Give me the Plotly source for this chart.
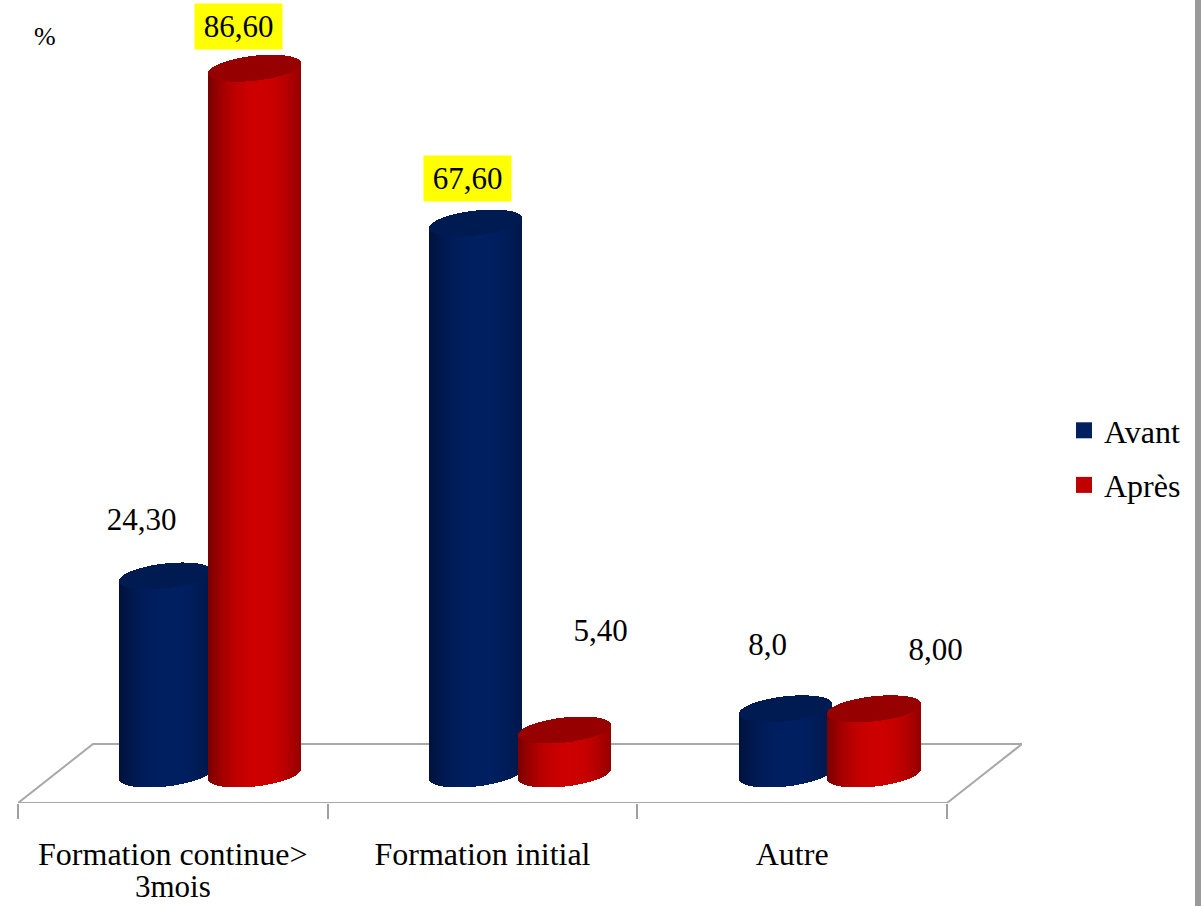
import numpy as np
import plotly.graph_objects as go

# Chart data
categories = ["Formation continue>", "Formation initial", "Autre"]
category_second_line = "3mois"
avant = [24.3, 67.6, 8.0]
apres = [86.6, 5.4, 8.0]
avant_labels = ["24,30", "67,60", "8,0"]
apres_labels = ["86,60", "5,40", "8,00"]
avant_highlight = [False, True, False]
apres_highlight = [True, False, False]

# Page geometry, in pixels
W, H = 1201, 906
FLOOR_LEFT, FLOOR_RIGHT, FLOOR_DEPTH_X = 18, 947, 75
FLOOR_FRONT, FLOOR_BACK = 803, 744
ZERO_PX = 774
PX_PER_CAT = (FLOOR_RIGHT - FLOOR_LEFT) / 3
PX_PER_UNIT = 8.15
RADIUS_PX, TILT_PX, RY_PX = 46, 5, 12.5
STRIPS = 92

# Cylinder centres within each category band
AVANT_POS, APRES_POS = 0.478, 0.765

FONT = "Liberation Serif"
LABEL_SIZE = 31
AXIS_SIZE = 32


def shade(edge, mid, u):
    """Colour across a cylinder: dark at the rim, brightest just right of centre."""
    t = np.clip(1 - ((u - 0.1) / 1.1) ** 2, 0, 1) ** 0.9
    return [
        "rgb({},{},{})".format(*(int(e + (m - e) * k) for e, m in zip(edge, mid)))
        for k in t
    ]


def cylinder_trace(name, centres, values, edge, mid, top):
    """One bar trace made of narrow strips: cylinder bodies, then their top faces."""
    u = (np.arange(STRIPS) + 0.5) / STRIPS * 2 - 1
    half_w = RADIUS_PX / PX_PER_CAT
    arc = RY_PX / PX_PER_UNIT * np.sqrt(1 - u**2)
    slant = TILT_PX / PX_PER_UNIT * u
    xs, bases, heights, colours = [], [], [], []
    body_colours = shade(edge, mid, u)
    for c, v in zip(centres, values):
        xs.extend(c + u * half_w)
        bottom = -arc + slant
        bases.extend(bottom)
        heights.extend(v + slant - bottom)
        colours.extend(body_colours)
    for c, v in zip(centres, values):
        xs.extend(c + u * half_w)
        bases.extend(v + slant - arc)
        heights.extend(2 * arc)
        colours.extend([top] * STRIPS)
    return go.Bar(
        x=xs, y=heights, base=bases, name=name, showlegend=False,
        width=1.6 * half_w * 2 / STRIPS,
        marker=dict(color=colours, line=dict(width=0)),
        hoverinfo="skip",
    )


avant_x = [i + AVANT_POS for i in range(3)]
apres_x = [i + APRES_POS for i in range(3)]

fig = go.Figure()
fig.add_trace(cylinder_trace("Avant", avant_x, avant, (0, 18, 60), (0, 32, 98), "#001a52"))
fig.add_trace(cylinder_trace("Après", apres_x, apres, (118, 0, 0), (206, 0, 0), "#960000"))

# Legend entries
for name, colour in (("Avant", "#002060"), ("Après", "#c00000")):
    fig.add_trace(go.Scatter(
        x=[None], y=[None], mode="markers", name=name, legendgroup=name,
        marker=dict(symbol="square", size=16, color=colour),
    ))

plot_w = FLOOR_RIGHT + FLOOR_DEPTH_X - FLOOR_LEFT
y_min = (ZERO_PX - FLOOR_FRONT) / PX_PER_UNIT
y_max = ZERO_PX / PX_PER_UNIT
x_max = plot_w / PX_PER_CAT
y_back = (ZERO_PX - FLOOR_BACK) / PX_PER_UNIT
x_depth = FLOOR_DEPTH_X / PX_PER_CAT

# Floor of the 3D plot area
floor_path = f"M 0 {y_min} L 3 {y_min} L {x_max} {y_back} L {x_depth} {y_back} Z"
shapes = [
    dict(type="path", path=floor_path, xref="x", yref="y", layer="below",
         line=dict(color="#a8a8a8", width=2), fillcolor="white"),
    # Grey page edge on the right
    dict(type="rect", xref="paper", yref="paper",
         x0=(1195 - FLOOR_LEFT) / plot_w, x1=(W - FLOOR_LEFT) / plot_w,
         y0=1 - H / FLOOR_FRONT, y1=1.0,
         fillcolor="#9a9a9a", line=dict(width=0), layer="above"),
]

# Value labels, offset in pixels from the top of each cylinder
avant_offsets = [(-25, 56), (-8, 45), (-18, 64)]
apres_offsets = [(-16, 42), (36, 99), (61, 59)]
annotations = []
for xs, vals, labels, marks, offsets in (
    (avant_x, avant, avant_labels, avant_highlight, avant_offsets),
    (apres_x, apres, apres_labels, apres_highlight, apres_offsets),
):
    for x, v, label, hl, (dx, dy) in zip(xs, vals, labels, marks, offsets):
        annotations.append(dict(
            x=x, y=v, xref="x", yref="y", text=label, showarrow=False,
            xshift=dx, yshift=dy, width=85, height=43,
            bgcolor="#ffff00" if hl else "rgba(0,0,0,0)",
            font=dict(family=FONT, size=LABEL_SIZE, color="black"),
        ))
annotations.append(dict(
    x=(45 - FLOOR_LEFT) / plot_w, y=1 - 37 / FLOOR_FRONT, xref="paper", yref="paper",
    xanchor="center", yanchor="middle",
    text="%", showarrow=False, font=dict(family=FONT, size=26, color="black"),
))
# Second line of the first category, set closer than the axis line height allows
annotations.append(dict(
    x=0.5, y=1 - 886 / FLOOR_FRONT, xref="x", yref="paper",
    xanchor="center", yanchor="middle",
    text=category_second_line, showarrow=False,
    font=dict(family=FONT, size=LABEL_SIZE, color="black"),
))

fig.update_layout(
    width=W, height=H, autosize=False,
    margin=dict(l=FLOOR_LEFT, r=W - FLOOR_RIGHT - FLOOR_DEPTH_X, t=0, b=H - FLOOR_FRONT, pad=0),
    paper_bgcolor="white", plot_bgcolor="white",
    barmode="overlay", bargap=0,
    font=dict(family=FONT, size=AXIS_SIZE, color="black"),
    shapes=shapes, annotations=annotations,
    legend=dict(
        x=(1064 - FLOOR_LEFT) / plot_w, y=1 - 458 / FLOOR_FRONT, xanchor="left", yanchor="middle",
        tracegroupgap=10, font=dict(family=FONT, size=AXIS_SIZE, color="black"),
        bgcolor="rgba(0,0,0,0)",
    ),
    xaxis=dict(
        range=[0, x_max], showgrid=False, zeroline=False, showline=False, automargin=False,
        tickmode="array", tickvals=[0.5, 1.5, 2.5], ticktext=categories,
        ticks="", ticklabelstandoff=29, tickangle=0,
        tickfont=dict(family=FONT, size=AXIS_SIZE, color="black"),
        minor=dict(tickmode="array", tickvals=[0, 1, 2, 3], ticks="outside",
                   ticklen=15, tickwidth=2, tickcolor="#a0a0a0", showgrid=False),
    ),
    yaxis=dict(range=[y_min, y_max], visible=False, automargin=False),
)

fig.write_html("out.html", config=dict(displayModeBar=False))
